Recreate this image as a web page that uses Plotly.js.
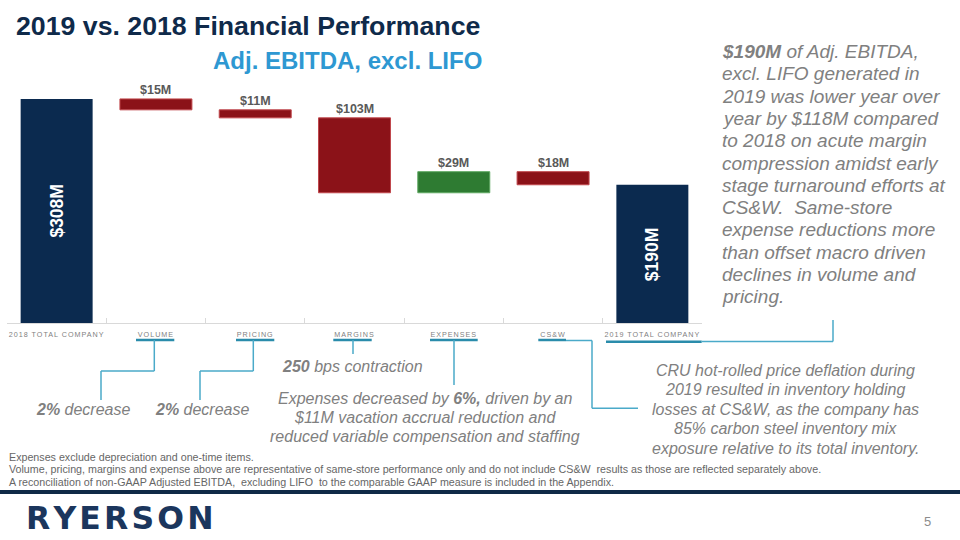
<!DOCTYPE html>
<html>
<head>
<meta charset="utf-8">
<script src="https://cdn.plot.ly/plotly-3.0.1.min.js"></script>
<style>
  html, body { margin: 0; padding: 0; background: #ffffff; }
  #chart { width: 960px; height: 540px; }
  .xtick text { letter-spacing: 1px; }
</style>
</head>
<body>
<div id="chart"></div>
<script>
// ---------------- DATA ----------------
const categories = ['2018 TOTAL COMPANY', 'VOLUME', 'PRICING', 'MARGINS', 'EXPENSES', 'CS&W', '2019 TOTAL COMPANY'];
const measures   = ['absolute', 'relative', 'relative', 'relative', 'relative', 'relative', 'total'];
const values     = [308, -15, -11, -103, 29, -18, 190];
const barLabels  = ['$308M', '$15M', '$11M', '$103M', '$29M', '$18M', '$190M'];

const rightNoteLines = [
  '<b>$190M</b> of Adj. EBITDA,',
  'excl. LIFO generated in',
  '2019 was lower year over',
  'year by $118M compared',
  'to 2018 on acute margin',
  'compression amidst early',
  'stage turnaround efforts at',
  'CS&W.\u00a0 Same-store',
  'expense reductions more',
  'than offset macro driven',
  'declines in volume and',
  'pricing.'
];
const volumeNote  = '<b>2%</b> decrease';
const pricingNote = '<b>2%</b> decrease';
const marginNote  = '<b>250</b> bps contraction';
const expenseNoteLines = [
  'Expenses decreased by <b>6%,</b> driven by an',
  '$11M vacation accrual reduction and',
  'reduced variable compensation and staffing'
];
const cswNoteLines = [
  'CRU hot-rolled price deflation during',
  '2019 resulted in inventory holding',
  'losses at CS&W, as the company has',
  '85% carbon steel inventory mix',
  'exposure relative to its total inventory.'
];
const footnotes = [
  'Expenses exclude depreciation and one-time items.',
  'Volume, pricing, margins and expense above are representative of same-store performance only and do not include CS&W\u00a0 results as those are reflected separately above.',
  'A reconciliation of non-GAAP Adjusted EBITDA,\u00a0 excluding LIFO\u00a0 to the comparable GAAP measure is included in the Appendix.'
];

// ---------------- LAYOUT HELPERS ----------------
const L = 7, R = 702, T = 32, B = 323;
const W = R - L, H = B - T;
const X = px => (px - L) / W;
const Y = py => (B - py) / H;

const FONT = 'Liberation Sans, Arial, sans-serif';
const GRAY = '#808080';
const NAVY = '#0B2A4F';
const RED = '#8B1218';
const GREEN = '#2E7B32';
const TEAL = '#2A8CAB';
const LTEAL = '#4AAAC9';

const annotations = [];
const shapes = [];

function txt(px, py, text, size, color, opts) {
  annotations.push(Object.assign({
    xref: 'paper', yref: 'paper', x: X(px), y: Y(py), text: text,
    showarrow: false, xanchor: 'center', yanchor: 'middle',
    font: { family: FONT, size: size, color: color }
  }, opts || {}));
}
function seg(x0, y0, x1, y1, color, width) {
  shapes.push({ type: 'line', xref: 'paper', yref: 'paper',
    x0: X(x0), y0: Y(y0), x1: X(x1), y1: Y(y1),
    line: { color: color, width: width } });
}

// ---------------- BAR LABELS (from data) ----------------
let running = 0;
values.forEach((v, i) => {
  let start, end;
  if (measures[i] === 'absolute') { start = 0; end = v; }
  else if (measures[i] === 'total') { start = 0; end = running; }
  else { start = running; end = running + v; }
  running = end;
  if (measures[i] === 'relative') {
    annotations.push({
      xref: 'x', yref: 'y', x: categories[i], y: Math.max(start, end),
      text: '<b>' + barLabels[i] + '</b>', showarrow: false,
      yanchor: 'bottom', xanchor: 'center', yshift: 0,
      font: { family: FONT, size: 12.5, color: '#595959' }
    });
  } else {
    annotations.push({
      xref: 'x', yref: 'y', x: categories[i], y: end / 2,
      text: '<b>' + barLabels[i] + '</b>', showarrow: false, textangle: -90,
      yanchor: 'middle', xanchor: 'center',
      font: { family: FONT, size: 17.5, color: '#ffffff' }
    });
  }
});

// ---------------- TITLES ----------------
txt(14, 26, '<b>2019 vs. 2018 Financial Performance</b>', 26.7, '#0F2A4A', { xanchor: 'left' });
txt(484, 60, '<b>Adj. EBITDA, excl. LIFO</b>', 24, '#2E98D2', { xanchor: 'right' });

// ---------------- RIGHT COMMENTARY ----------------
rightNoteLines.forEach((line, i) => {
  txt(720, 51.5 + 22.3 * i, '<i>' + line + '</i>', 19, GRAY, { xanchor: 'left' });
});

// ---------------- CALLOUTS ----------------
seg(136, 340, 174.3, 340, TEAL, 2.5);
seg(236, 340, 274.3, 340, TEAL, 2.5);
seg(333.3, 340, 371.7, 340, TEAL, 2.5);
seg(430, 340, 477.7, 340, TEAL, 2.5);
seg(538.3, 340, 566, 340, TEAL, 2.5);
seg(606, 341.7, 701.7, 341.7, TEAL, 2.5);

seg(154.3, 340, 154.3, 371, LTEAL, 1.5); seg(154.3, 371, 101, 371, LTEAL, 1.5); seg(101, 371, 101, 400, LTEAL, 1.5);
seg(253.3, 340, 253.3, 371, LTEAL, 1.5); seg(253.3, 371, 200, 371, LTEAL, 1.5); seg(200, 371, 200, 400, LTEAL, 1.5);
seg(353, 340, 353, 354, LTEAL, 1.5);
seg(454, 340, 454, 385, LTEAL, 1.5);
seg(566, 340.5, 592, 340.5, LTEAL, 1.5); seg(592, 340.5, 592, 408.3, LTEAL, 1.5); seg(592, 408.3, 638, 408.3, LTEAL, 1.5);
seg(701.7, 341.5, 833, 341.5, LTEAL, 1.5); seg(833, 341.5, 833, 320, LTEAL, 1.5);

txt(82.5, 409, '<i>' + volumeNote + '</i>', 16, GRAY);
txt(202, 409, '<i>' + pricingNote + '</i>', 16, GRAY);
txt(352, 366.7, '<i>' + marginNote + '</i>', 16, GRAY);
expenseNoteLines.forEach((line, i) => txt(425, 398.3 + 19.2 * i, '<i>' + line + '</i>', 16, GRAY));
cswNoteLines.forEach((line, i) => txt(785, 370 + 19.6 * i, '<i>' + line + '</i>', 16, GRAY));

// ---------------- FOOTER ----------------
footnotes.forEach((line, i) => txt(7, 456.7 + 12.5 * i, line, 10.7, '#666666', { xanchor: 'left' }));
shapes.push({ type: 'line', xref: 'paper', yref: 'paper', x0: X(0), x1: X(960), y0: Y(492), y1: Y(492),
  line: { color: '#0F2A47', width: 4 } });
txt(24, 518, '<b>R\u200aY\u200aE\u200aR\u200aS\u200aO\u200aN</b>', 31.5, '#1B365D', { xanchor: 'left', font: { family: 'DejaVu Sans, sans-serif', size: 31.5, color: '#1B365D' } });
txt(927, 521, '5', 13, '#8C8C8C');

// ---------------- CHART ----------------
const trace = {
  type: 'waterfall',
  x: categories,
  y: values,
  measure: measures,
  width: 0.725,
  connector: { visible: false },
  decreasing: { marker: { color: RED, line: { color: '#C0474C', width: 1 } } },
  increasing: { marker: { color: GREEN, line: { color: '#5FA862', width: 1 } } },
  totals: { marker: { color: NAVY, line: { width: 0 } } },
  textposition: 'none',
  hoverinfo: 'none'
};

const layout = {
  width: 960, height: 540,
  margin: { l: L, r: 960 - R, t: T, b: 540 - B },
  paper_bgcolor: '#ffffff', plot_bgcolor: '#ffffff',
  showlegend: false,
  font: { family: FONT, color: GRAY },
  xaxis: {
    type: 'category',
    showline: true, linecolor: '#D9D9D9', linewidth: 1,
    ticks: 'inside', tickson: 'boundaries', ticklen: 5, tickcolor: '#D9D9D9',
    ticklabelstandoff: 4,
    tickfont: { family: FONT, size: 7.2, color: '#7F7F7F' },
    showgrid: false, zeroline: false, fixedrange: true
  },
  yaxis: { visible: false, range: [0, 400], showgrid: false, zeroline: false, fixedrange: true },
  annotations: annotations,
  shapes: shapes
};

Plotly.newPlot('chart', [trace], layout, { displayModeBar: false, staticPlot: true });
</script>
</body>
</html>
